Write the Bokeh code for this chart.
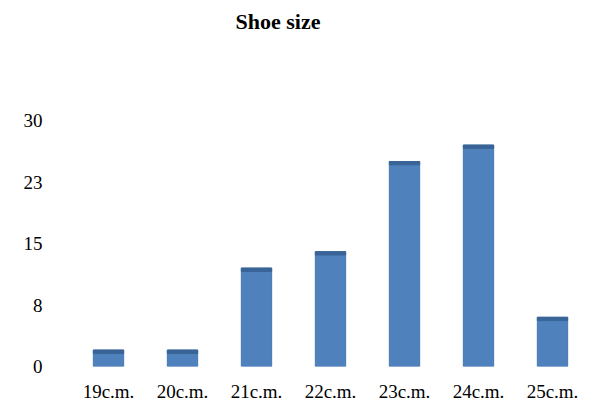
from bokeh.plotting import figure
from bokeh.models import FixedTicker, Range1d, ColumnDataSource
from bokeh.embed import file_html
from bokeh.resources import INLINE

categories = ["19c.m.", "20c.m.", "21c.m.", "22c.m.", "23c.m.", "24c.m.", "25c.m."]
counts = [2, 2, 12, 14, 25, 27, 6]
tick_values = [0, 7.5, 15, 22.5, 30]
tick_labels = ["0", "8", "15", "23", "30"]

cap = [c - 0.4 for c in counts]
src = ColumnDataSource(dict(cat=categories, top=counts, cap=cap))

p = figure(width=593, height=408, x_range=categories, y_range=Range1d(0, 39.76),
           output_backend="svg", toolbar_location=None,
           min_border_left=71, min_border_right=4, min_border_top=40, min_border_bottom=42)

p.vbar(x="cat", top="top", bottom=0, width=0.41, source=src,
       fill_color="#4F81BD", line_color="#4577B3", line_width=1)
p.vbar(x="cat", top="top", bottom="cap", width=0.41, source=src,
       fill_color="#3A6497", line_color="#3A6497", line_width=1)

p.title.text = "Shoe size"
p.title.text_font = "Liberation Serif"
p.title.text_font_size = "22px"
p.title.text_font_style = "bold"
p.title.text_color = "#000000"
p.title.align = "left"
p.title.offset = 164
p.title.vertical_align = "top"

p.xgrid.visible = False
p.ygrid.visible = False
p.outline_line_color = None

p.yaxis.ticker = FixedTicker(ticks=tick_values)
p.yaxis.major_label_overrides = {v: t for v, t in zip(tick_values, tick_labels)}
for ax in (p.xaxis, p.yaxis):
    ax.axis_line_color = None
    ax.major_tick_line_color = None
    ax.minor_tick_line_color = None
    ax.major_tick_out = 0
    ax.major_tick_in = 0
    ax.major_label_text_font = "Liberation Serif"
    ax.major_label_text_font_size = "19px"
    ax.major_label_text_color = "#000000"
p.yaxis.major_label_standoff = 29
p.xaxis.major_label_standoff = 14

open("out.html", "w").write(file_html(p, INLINE))
